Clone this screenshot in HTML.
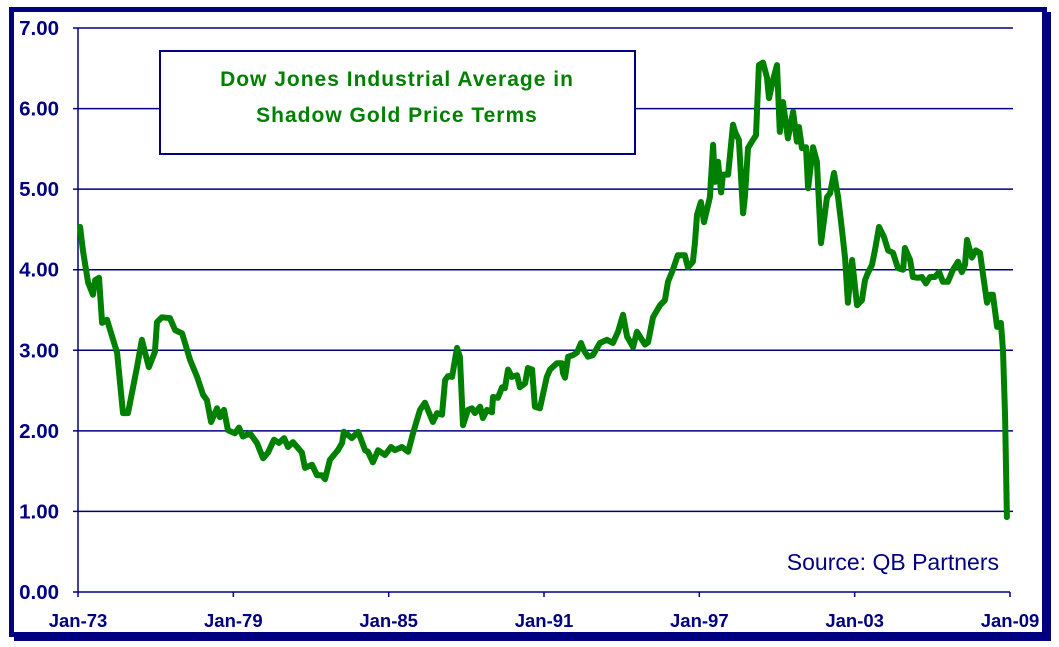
<!DOCTYPE html>
<html><head><meta charset="utf-8"><style>
html,body{margin:0;padding:0;background:#fff;}
svg{display:block;font-family:"Liberation Sans",Arial,sans-serif;}
</style></head><body>
<svg width="1059" height="647" viewBox="0 0 1059 647">
<rect x="0" y="0" width="1059" height="647" fill="#fff"/>
<rect x="14" y="12" width="1037" height="629" fill="#000080"/>
<rect x="11.5" y="9.5" width="1033" height="625" fill="#fff" stroke="#000080" stroke-width="5"/>
<g id="grid"></g>
<g id="yticks"></g>
<g id="xticks"></g>
<polyline id="series" fill="none" stroke="#008000" stroke-width="6" stroke-linejoin="round" stroke-linecap="round"/>
<rect x="160" y="51" width="475" height="103" fill="#fff" stroke="#000080" stroke-width="2"/>
<text x="397" y="86" text-anchor="middle" font-size="21" font-weight="bold" fill="#008000" letter-spacing="1">Dow Jones Industrial Average in</text>
<text x="397" y="122" text-anchor="middle" font-size="21" font-weight="bold" fill="#008000" letter-spacing="1">Shadow Gold Price Terms</text>
<text x="999" y="570" text-anchor="end" font-size="23" fill="#000080">Source: QB Partners</text>
</svg>
<script>
const yTickLabels=["0.00","1.00","2.00","3.00","4.00","5.00","6.00","7.00"];
const xTickLabels=["Jan-73","Jan-79","Jan-85","Jan-91","Jan-97","Jan-03","Jan-09"];
const xTickYears=[0,6,12,18,24,30,36];
const t=[0.08,0.19,0.39,0.58,0.66,0.81,0.93,1.12,1.51,1.74,1.93,2.28,2.47,2.59,2.74,2.97,3.05,3.24,3.55,3.75,4.02,4.33,4.60,4.83,4.98,5.14,5.37,5.48,5.64,5.79,6.06,6.22,6.37,6.64,6.91,7.15,7.34,7.57,7.76,7.96,8.11,8.30,8.65,8.77,9.04,9.23,9.42,9.54,9.73,10.04,10.20,10.27,10.58,10.82,11.09,11.20,11.39,11.59,11.86,12.09,12.24,12.51,12.75,12.94,13.21,13.40,13.71,13.87,14.06,14.18,14.29,14.45,14.64,14.75,14.87,15.06,15.22,15.33,15.53,15.64,15.80,15.99,16.03,16.22,16.38,16.49,16.61,16.76,16.96,17.07,17.27,17.38,17.54,17.65,17.84,18.11,18.23,18.50,18.69,18.73,18.81,18.93,19.12,19.27,19.43,19.54,19.70,19.89,20.16,20.43,20.66,20.86,21.05,21.21,21.44,21.59,21.71,21.90,22.02,22.21,22.48,22.67,22.79,22.98,23.17,23.25,23.44,23.56,23.75,23.83,23.91,24.06,24.18,24.41,24.53,24.60,24.72,24.84,24.91,25.11,25.30,25.38,25.53,25.69,25.76,25.88,26.07,26.19,26.30,26.46,26.61,26.69,26.84,27.00,27.11,27.23,27.42,27.62,27.77,27.85,27.96,28.12,28.20,28.39,28.54,28.70,28.93,29.05,29.20,29.36,29.51,29.63,29.74,29.90,30.09,30.28,30.40,30.51,30.67,30.78,30.94,31.13,31.29,31.48,31.67,31.87,31.94,32.14,32.25,32.44,32.60,32.75,32.91,33.10,33.26,33.41,33.60,33.80,33.99,34.14,34.26,34.34,34.53,34.68,34.84,34.95,35.11,35.23,35.34,35.50,35.65,35.73,35.81,35.88];
const v=[4.53,4.24,3.84,3.69,3.87,3.90,3.34,3.38,2.97,2.22,2.22,2.79,3.13,2.97,2.79,2.98,3.35,3.41,3.40,3.25,3.21,2.88,2.67,2.45,2.38,2.11,2.28,2.17,2.26,2.01,1.97,2.04,1.93,1.97,1.85,1.66,1.73,1.89,1.85,1.91,1.80,1.86,1.73,1.54,1.58,1.45,1.45,1.40,1.64,1.76,1.85,1.99,1.91,1.99,1.76,1.74,1.61,1.76,1.70,1.80,1.76,1.80,1.74,1.97,2.26,2.35,2.11,2.22,2.20,2.63,2.68,2.67,3.03,2.92,2.07,2.26,2.28,2.22,2.30,2.16,2.26,2.23,2.42,2.41,2.54,2.53,2.76,2.67,2.69,2.54,2.59,2.78,2.76,2.30,2.28,2.67,2.76,2.84,2.84,2.72,2.66,2.92,2.94,2.97,3.09,3.00,2.92,2.94,3.09,3.13,3.09,3.23,3.44,3.17,3.04,3.23,3.17,3.07,3.10,3.41,3.56,3.62,3.85,4.00,4.18,4.18,4.18,4.03,4.10,4.33,4.68,4.84,4.59,4.90,5.55,5.09,5.34,4.96,5.18,5.18,5.80,5.71,5.61,4.70,4.90,5.51,5.61,5.67,6.54,6.57,6.39,6.13,6.35,6.54,5.71,6.08,5.63,5.96,5.59,5.77,5.51,5.52,5.01,5.52,5.34,4.33,4.90,4.95,5.20,4.90,4.49,4.14,3.59,4.12,3.56,3.62,3.87,3.96,4.06,4.24,4.53,4.41,4.24,4.21,4.02,4.00,4.27,4.12,3.91,3.90,3.91,3.83,3.91,3.91,3.97,3.85,3.85,4.00,4.10,3.97,4.06,4.37,4.15,4.24,4.21,3.96,3.59,3.69,3.69,3.29,3.34,3.00,2.17,0.93];
const X0=78,X1=1010,Y0=592,Y1=28;
function xs(yr){return X0+(X1-X0)*yr/36;}
function ys(val){return Y0-(Y0-Y1)*val/7;}
const NS="http://www.w3.org/2000/svg";
const grid=document.getElementById('grid'),yt=document.getElementById('yticks'),xt=document.getElementById('xticks');
yTickLabels.forEach((lab,i)=>{
  const y=ys(i);
  const ln=document.createElementNS(NS,'line');
  
  
  ln.setAttribute('x1',i===0?X0:73);ln.setAttribute('x2',i===0?X1:1013);
  ln.setAttribute('y1',y);ln.setAttribute('y2',y);
  ln.setAttribute('stroke','#000080');ln.setAttribute('stroke-width','1.5');
  grid.appendChild(ln);
  if(i===0){const tk=document.createElementNS(NS,'line');
    
    
    tk.setAttribute('x1',73);tk.setAttribute('x2',X0);tk.setAttribute('y1',y);tk.setAttribute('y2',y);
    tk.setAttribute('stroke','#000080');tk.setAttribute('stroke-width','1.5');grid.appendChild(tk);}
  const tx=document.createElementNS(NS,'text');
  
  
  tx.setAttribute('x',59);tx.setAttribute('y',y+7);tx.setAttribute('text-anchor','end');
  tx.setAttribute('font-size','20.5');tx.setAttribute('font-weight','bold');tx.setAttribute('fill','#000080');
  tx.textContent=lab;yt.appendChild(tx);
});
const ax=document.createElementNS(NS,'line');


ax.setAttribute('x1',X0);ax.setAttribute('x2',X0);ax.setAttribute('y1',Y1);ax.setAttribute('y2',Y0);
ax.setAttribute('stroke','#000080');ax.setAttribute('stroke-width','1.5');yt.appendChild(ax);
xTickLabels.forEach((lab,i)=>{
  const x=xs(xTickYears[i]);
  const tk=document.createElementNS(NS,'line');
  
  
  tk.setAttribute('x1',x);tk.setAttribute('x2',x);tk.setAttribute('y1',Y0);tk.setAttribute('y2',Y0+5);
  tk.setAttribute('stroke','#000080');tk.setAttribute('stroke-width','1.5');xt.appendChild(tk);
  const tx=document.createElementNS(NS,'text');
  
  
  tx.setAttribute('x',x);tx.setAttribute('y',627);tx.setAttribute('text-anchor','middle');
  tx.setAttribute('font-size','18.5');tx.setAttribute('font-weight','bold');tx.setAttribute('fill','#000080');
  tx.textContent=lab;xt.appendChild(tx);
});
document.getElementById('series').setAttribute('points',t.map((yr,i)=>xs(yr).toFixed(1)+','+ys(v[i]).toFixed(1)).join(' '));
</script>
</body></html>
